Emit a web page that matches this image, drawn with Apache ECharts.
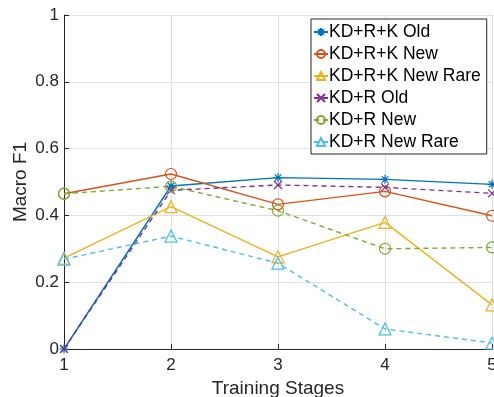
<!DOCTYPE html>
<html>
<head>
<meta charset="utf-8">
<script src="https://cdn.jsdelivr.net/npm/echarts@6/dist/echarts.min.js"></script>
<style>
  html, body { margin: 0; padding: 0; background: #fff; }
  #main { width: 494px; height: 397px; }
</style>
</head>
<body>
<div id="main"></div>
<script>
var stages = ['1', '2', '3', '4', '5'];
var yTicks = [0, 0.2, 0.4, 0.6, 0.8, 1];

var kdrkOld = [0, 0.488, 0.513, 0.508, 0.493];
var kdrkNew = [0.465, 0.524, 0.433, 0.472, 0.399];
var kdrkNewRare = [0.272, 0.426, 0.276, 0.379, 0.132];
var kdrOld = [0, 0.475, 0.491, 0.484, 0.466];
var kdrNew = [0.465, 0.487, 0.414, 0.300, 0.304];
var kdrNewRare = [0.269, 0.338, 0.257, 0.060, 0.018];

var FONT = 'Liberation Sans, Arial, Helvetica, sans-serif';
var starPath = 'path://M0,-5L0,5M-5,0L5,0M-3.6,-3.6L3.6,3.6M-3.6,3.6L3.6,-3.6';
var xPath = 'path://M-4,-4L4,4M-4,4L4,-4';

var myChart = echarts.init(document.getElementById('main'));

function mkSeries (name, data, color, symbol, dashed, size) {
  return {
    name: name,
    type: 'line',
    data: data.map(function (v, i) { return [i + 1, v]; }),
    symbol: symbol,
    symbolSize: size,
    showAllSymbol: true,
    lineStyle: { color: color, width: 1.4, type: dashed ? [5, 4] : 'solid' },
    itemStyle: { color: 'none', borderColor: color, borderWidth: 1.2 },
    emphasis: { disabled: true },
    animation: false,
    clip: false
  };
}

var option = {
  animation: false,
  grid: { left: 64, right: 2, top: 15, bottom: 48, outerBoundsMode: 'none', containLabel: false },
  legend: {
    orient: 'vertical',
    left: 311,
    top: 19,
    padding: [4, 6, 3, 2],
    itemGap: 4,
    itemWidth: 14,
    itemHeight: 10,
    backgroundColor: '#fff',
    borderColor: '#262626',
    borderWidth: 1,
    textStyle: { fontSize: 17.5, color: '#000', fontFamily: FONT, padding: [0, 0, 0, -4] },
    data: ['KD+R+K Old', 'KD+R+K New', 'KD+R+K New Rare', 'KD+R Old', 'KD+R New', 'KD+R New Rare']
  },
  xAxis: {
    type: 'value',
    min: 1,
    max: 5,
    interval: 1,
    name: 'Training Stages',
    nameLocation: 'middle',
    nameGap: 27,
    nameTextStyle: { fontSize: 19, color: '#262626', fontFamily: FONT },
    axisLine: { onZero: false, lineStyle: { color: '#262626', width: 1 } },
    axisTick: { inside: true, length: 5, lineStyle: { color: '#262626' } },
    axisLabel: { fontSize: 17, color: '#262626', fontFamily: FONT, margin: 8,
      formatter: function (v) { return stages[v - 1]; } },
    splitLine: { show: true, lineStyle: { color: '#dfdfdf', width: 1 } }
  },
  yAxis: {
    type: 'value',
    min: 0,
    max: 1,
    interval: 0.2,
    name: 'Macro F1',
    nameLocation: 'middle',
    nameGap: 34,
    nameMoveOverlap: false,
    nameTextStyle: { fontSize: 19, color: '#262626', fontFamily: FONT },
    axisLine: { show: true, lineStyle: { color: '#262626', width: 1 } },
    axisTick: { show: true, inside: true, length: 5, lineStyle: { color: '#262626' } },
    axisLabel: { fontSize: 17, color: '#262626', fontFamily: FONT, margin: 5,
      formatter: function (v) {
        var t = yTicks.find(function (y) { return Math.abs(y - v) < 1e-6; });
        return t === undefined ? '' : String(t);
      } },
    splitLine: { show: true, lineStyle: { color: '#dfdfdf', width: 1 } }
  },
  series: [
    mkSeries('KD+R+K Old', kdrkOld, '#0072BD', starPath, false, 9),
    mkSeries('KD+R+K New', kdrkNew, '#D95319', 'circle', false, 11),
    mkSeries('KD+R+K New Rare', kdrkNewRare, '#EDB120', 'triangle', false, 12),
    mkSeries('KD+R Old', kdrOld, '#7E2F8E', xPath, true, 8),
    mkSeries('KD+R New', kdrNew, '#77AC30', 'circle', true, 11),
    mkSeries('KD+R New Rare', kdrNewRare, '#4DBEEE', 'triangle', true, 12)
  ]
};

myChart.setOption(option);
</script>
</body>
</html>
